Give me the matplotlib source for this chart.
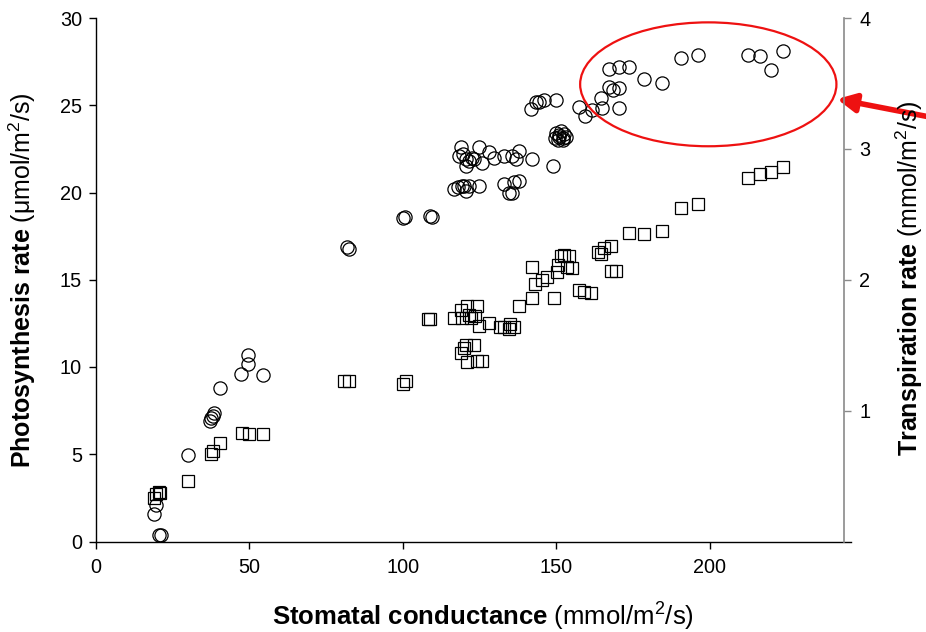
import matplotlib
matplotlib.use("Agg")
import matplotlib.pyplot as plt
from matplotlib.patches import Ellipse

plt.rcParams['font.family'] = ['Liberation Sans', 'DejaVu Sans']
plt.rcParams['mathtext.fontset'] = 'custom'
plt.rcParams['mathtext.rm'] = 'Liberation Sans'
plt.rcParams['mathtext.bf'] = 'Liberation Sans:bold'
plt.rcParams['mathtext.it'] = 'Liberation Sans:italic'

# Photosynthesis (circles): stomatal conductance vs rate
photo_g = [18.9, 19.6, 20.5, 21.3, 30.0, 37.0, 37.5, 38.0, 38.5, 40.4,
           47.3, 49.6, 49.6, 54.4, 81.8, 82.5, 100.0, 100.7, 108.9, 109.6,
           119.0, 124.9, 118.4, 120.6, 123.2, 120.6, 125.9, 128.1, 129.8, 133.0,
           135.6, 137.9, 136.9, 142.2, 149.0, 121.5, 122.5, 119.5,
           116.7, 119.3, 121.6, 124.9, 120.6, 118.0, 120.0, 133.0, 136.3, 137.9,
           134.7, 135.6,
           141.8, 143.5, 146.1, 150.0, 144.5,
           149.5, 150.0, 150.5, 151.0, 151.5, 152.0, 152.5, 153.0, 150.8, 152.2,
           157.5, 159.4, 161.7, 164.7, 165.0, 170.5, 167.3, 168.3, 170.5, 167.3,
           170.5, 173.8, 178.7, 184.5, 190.7, 196.0, 212.3, 216.2, 223.7, 220.0]
photo_p = [1.6, 2.1, 0.4, 0.4, 4.93, 6.9, 7.05, 7.2, 7.35, 8.8,
           9.6, 10.15, 10.7, 9.55, 16.87, 16.75, 18.55, 18.6, 18.65, 18.6,
           22.6, 22.6, 22.1, 21.9, 21.9, 21.5, 21.7, 22.3, 22.0, 22.1,
           22.1, 22.4, 21.9, 21.9, 21.5, 21.8, 22.0, 22.2,
           20.2, 20.4, 20.4, 20.4, 20.1, 20.3, 20.35, 20.5, 20.6, 20.65,
           19.95, 19.95,
           24.8, 25.2, 25.3, 25.3, 25.2,
           23.1, 23.4, 23.0, 23.3, 23.5, 23.1, 23.35, 23.2, 23.2, 23.0,
           24.9, 24.4, 24.7, 25.4, 24.85, 24.85, 26.05, 25.9, 26.0, 27.1,
           27.2, 27.2, 26.5, 26.3, 27.7, 27.9, 27.9, 27.8, 28.1, 27.0]

# Transpiration (squares): stomatal conductance vs rate
trans_g = [18.9, 19.6, 20.5, 21.0, 30.0, 37.5, 38.2, 40.4, 47.6, 49.9,
           54.4, 80.9, 82.5, 100.0, 101.0, 108.3, 108.9,
           116.7, 119.3, 121.0, 124.2, 119.0, 122.3, 121.5, 123.5, 124.9,
           128.1, 131.5, 133.0, 134.5, 136.3, 135.0,
           137.9, 142.2, 143.1, 142.2, 145.4, 147.0, 149.3, 150.3, 150.6, 151.6,
           152.5, 154.2, 155.2, 153.5, 157.5, 159.0, 161.4, 164.7, 163.5, 167.9,
           165.5, 167.9, 169.5, 173.8, 178.7, 184.5, 190.7, 196.0, 212.3, 216.2,
           220.0, 223.7,
           119.0, 120.6, 123.2, 121.0, 124.2, 125.9, 119.8]
trans_e = [0.33, 0.36, 0.38, 0.37, 0.46, 0.67, 0.69, 0.75, 0.83, 0.82,
           0.82, 1.23, 1.23, 1.20, 1.23, 1.70, 1.70,
           1.71, 1.71, 1.80, 1.80, 1.77, 1.71, 1.73, 1.72, 1.65,
           1.67, 1.64, 1.64, 1.62, 1.64, 1.66,
           1.80, 1.86, 1.97, 2.10, 2.00, 2.02, 1.86, 2.06, 2.11, 2.18,
           2.19, 2.18, 2.09, 2.10, 1.92, 1.91, 1.90, 2.20, 2.21, 2.26,
           2.24, 2.07, 2.07, 2.36, 2.35, 2.37, 2.55, 2.58, 2.78, 2.81,
           2.82, 2.86,
           1.44, 1.50, 1.50, 1.37, 1.38, 1.38, 1.48]

x_ticks = [0, 50, 100, 150, 200]
y_left_ticks = [0, 5, 10, 15, 20, 25, 30]
y_right_ticks = [1, 2, 3, 4]

W, H = 926, 632
fig = plt.figure(figsize=(W / 100, H / 100), dpi=100)
ax = fig.add_axes([96 / W, 1 - 541.5 / H, (851 - 96) / W, (541.5 - 18) / H])
ax.set_xlim(0, 246)
ax.set_ylim(0, 30)

ax.plot(photo_g, photo_p, linestyle='none', marker='o', markersize=9.5,
        markerfacecolor='none', markeredgecolor='black', markeredgewidth=0.9,
        clip_on=False, zorder=3)

ax2 = ax.twinx()
ax2.set_ylim(0, 4)
ax2.plot(trans_g, trans_e, linestyle='none', marker='s', markersize=9.0,
         markerfacecolor='none', markeredgecolor='black', markeredgewidth=0.9,
         clip_on=False, zorder=3)

for a in (ax, ax2):
    a.spines['top'].set_visible(False)
ax.spines['right'].set_visible(False)
ax2.spines['left'].set_visible(False)
ax2.spines['bottom'].set_visible(False)
ax2.spines['right'].set_position(('axes', (844 - 96) / (851 - 96)))
ax2.spines['right'].set_color('#8a8a8a')
ax2.spines['right'].set_linewidth(1.2)
ax.spines['left'].set_linewidth(1.0)
ax.spines['bottom'].set_linewidth(1.0)

ax.set_xticks(x_ticks)
ax.set_yticks(y_left_ticks)
ax2.set_yticks(y_right_ticks)
ax.tick_params(axis='both', direction='out', length=5, width=1.0,
               labelsize=14.3, pad=5)
ax.tick_params(axis='x', pad=7)
ax2.tick_params(axis='y', direction='out', length=5, width=1.0,
                colors='#8a8a8a', labelcolor='black', labelsize=14.3, pad=6)

ax.set_xlabel(r'$\mathbf{Stomatal\ conductance}$ (mmol/m$^{2}$/s)',
              fontsize=18.5, va='center')
ax.xaxis.set_label_coords(0.512, -0.144)
ax.set_ylabel(r'$\mathbf{Photosynthesis\ rate}$ (μmol/m$^{2}$/s)',
              fontsize=18, va='center')
ax.yaxis.set_label_coords(-0.098, 0.5)
ax2.set_ylabel(r'$\mathbf{Transpiration\ rate}$ (mmol/m$^{2}$/s)',
               fontsize=18, va='center')
ax2.yaxis.set_label_coords(1.077, 0.503)

# red annotation ellipse and arrow
ell = Ellipse((199.5, 26.2), width=83.5, height=7.1, fill=False,
              edgecolor='#ee1111', linewidth=1.6, clip_on=False, zorder=4)
ax.add_patch(ell)
ax.annotate('', xy=(837, H - 99), xycoords='figure pixels',
            xytext=(940, H - 119), textcoords='figure pixels',
            arrowprops=dict(arrowstyle='-|>,head_length=1.1,head_width=0.55',
                            color='#ee1111', lw=4.0, shrinkA=0, shrinkB=0),
            annotation_clip=False)

fig.savefig('out.png', dpi=100)
